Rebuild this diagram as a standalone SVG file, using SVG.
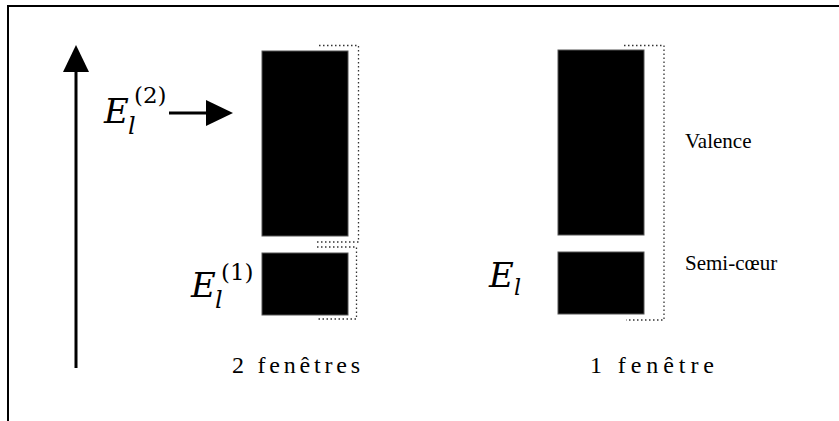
<svg xmlns="http://www.w3.org/2000/svg" width="839" height="421" viewBox="0 0 839 421">
<defs>
<style>
.frame{stroke:#000;stroke-width:2;fill:none}
.band{fill:#000;stroke:#555;stroke-width:1}
.dot{fill:none;stroke:#333;stroke-width:1.3;stroke-dasharray:1.5 2.5}
.lbl{font-family:"Liberation Serif","Times New Roman",serif;font-size:21px;fill:#000}
.cap{font-family:"Liberation Serif","Times New Roman",serif;font-size:24px;fill:#000}
.mi{font-family:"DejaVu Serif","Liberation Serif",serif;font-style:italic;fill:#000}
.mn{font-family:"DejaVu Serif","Liberation Serif",serif;font-style:normal;fill:#000}
.axis{stroke:#000;stroke-width:3;fill:none}
</style>
</defs>
<rect width="839" height="421" fill="#fff"/>
<path class="frame" d="M8 421 V6 H839"/>
<g id="connectors">
<line class="axis" x1="76" y1="368" x2="76" y2="68"/>
<polygon points="76,45 63,72 89,72" fill="#000"/>
<line class="axis" x1="169" y1="113" x2="208" y2="113"/>
<polygon points="233,113 206,100 206,126" fill="#000"/>
</g>
<g id="left-valence">
<rect class="band" x="262" y="51" width="86" height="185"/>
<path class="dot" d="M319 45.5 H358.5 V242 H317"/>
</g>
<g id="left-semicoeur">
<rect class="band" x="262" y="253" width="86" height="62"/>
<path class="dot" d="M317 247 H356.5 V319 H318"/>
</g>
<g id="right-valence">
<rect class="band" x="558" y="50" width="86" height="185"/>
</g>
<g id="right-semicoeur">
<rect class="band" x="558" y="252" width="86" height="62"/>
<path class="dot" d="M624 45.5 H664 V320 H626"/>
</g>
<g id="label-E2">
<text class="mi" x="104" y="123" font-size="34">E</text>
<text class="mi" x="128" y="134" font-size="24">l</text>
<text class="mn" x="134" y="103" font-size="23">(2)</text>
</g>
<g id="label-E1">
<text class="mi" x="191" y="297" font-size="34">E</text>
<text class="mi" x="215" y="308" font-size="24">l</text>
<text class="mn" x="221" y="280" font-size="23">(1)</text>
</g>
<g id="label-E">
<text class="mi" x="489" y="287" font-size="34">E</text>
<text class="mi" x="514" y="295" font-size="22">l</text>
</g>
<text class="lbl" x="685" y="148">Valence</text>
<text class="lbl" x="685" y="270">Semi-cœur</text>
<text class="cap" x="232" y="373" textLength="128" lengthAdjust="spacing">2 fenêtres</text>
<text class="cap" x="590" y="373" textLength="124" lengthAdjust="spacing">1 fenêtre</text>
</svg>
